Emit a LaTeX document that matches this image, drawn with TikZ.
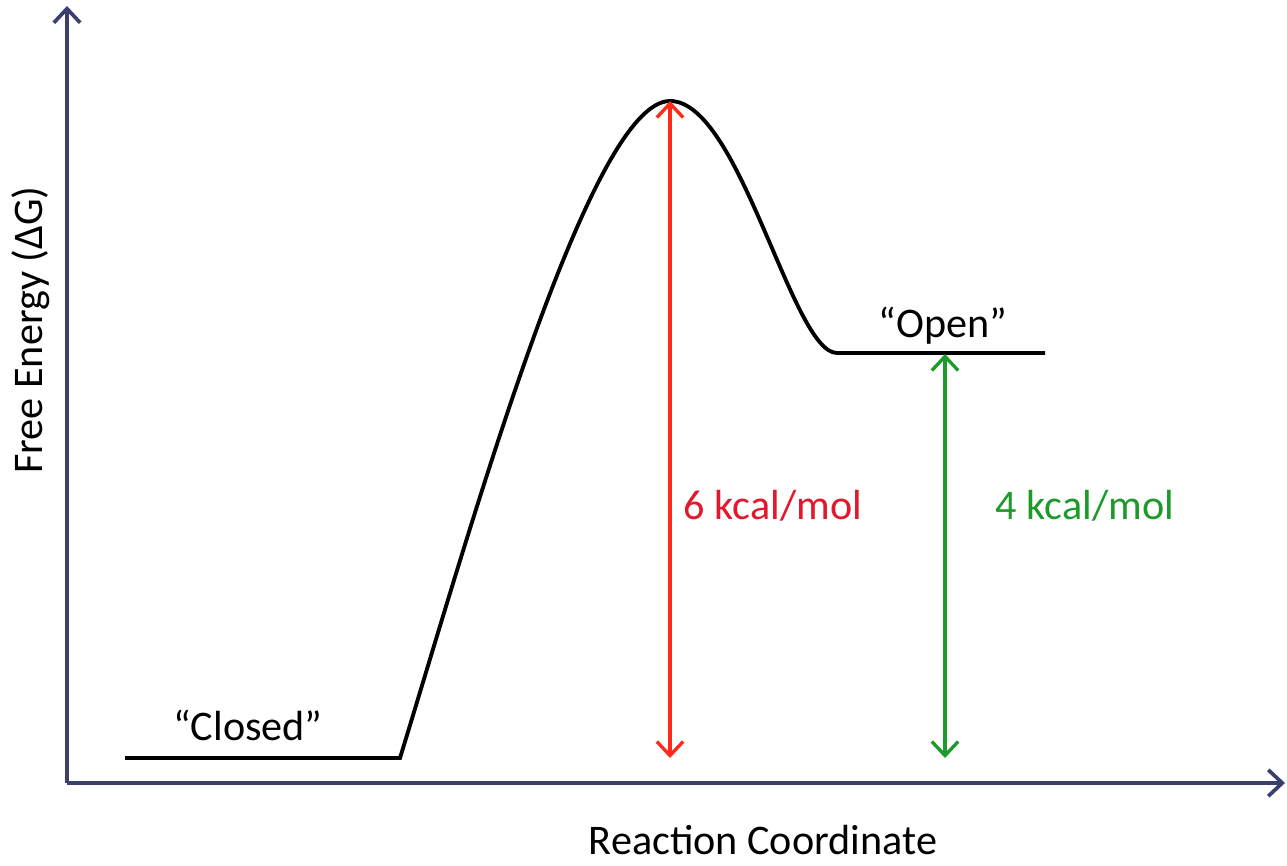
\documentclass[tikz,border=0pt]{standalone}
\usepackage{fontspec}
\setmainfont{Carlito}
\usetikzlibrary{arrows.meta}
\definecolor{axiscol}{HTML}{3B3F6E}
\definecolor{redarr}{HTML}{FF2A1A}
\definecolor{redtxt}{HTML}{E2182C}
\definecolor{greenarr}{HTML}{1E9A2A}
\begin{document}
\begin{tikzpicture}[x=0.02cm,y=-0.02cm,
  lbl/.style={font=\fontsize{24}{28}\selectfont, inner sep=0pt},
  axis/.style={axiscol, line width=2.1pt, -{Straight Barb[length=8pt,width=15pt,line width=2.1pt]}},
  energy/.style={black, line width=2.2pt},
  gap/.style={line width=1.9pt, {Straight Barb[length=8pt,width=15pt,line width=1.9pt]}-{Straight Barb[length=8pt,width=15pt,line width=1.9pt]}}]
\useasboundingbox (0,0) rectangle (1287,865);
\coordinate (origin) at (67,783);
\coordinate (ytop) at (67,6);
\coordinate (xend) at (1285,783);
\coordinate (c1) at (125,758);
\coordinate (c2) at (400,758);
\coordinate (peak) at (670,101);
\coordinate (o1) at (837,353);
\coordinate (o2) at (1045,353);
\coordinate (rbot) at (670,758);
\coordinate (gtop) at (945,354);
\coordinate (gbot) at (945,758);
\draw[axis] (origin) -- (ytop);
\draw[axis] (origin) -- (xend);
\draw[energy] (c1) -- (c2) .. controls (470,530) and (590,101) .. (peak)
  .. controls (740,101) and (792,353) .. (o1) -- (o2);
\draw[gap, redarr] (peak) -- (rbot);
\draw[gap, greenarr] (gtop) -- (gbot);
\node[lbl, anchor=base] (closed) at (248,740) {“Closed”};
\node[lbl, anchor=base] (open) at (943,337) {“Open”};
\node[lbl, anchor=base, text=redtxt] (six) at (773,519) {6 kcal/mol};
\node[lbl, anchor=base, text=greenarr] (four) at (1085,519) {4 kcal/mol};
\node[lbl, rotate=90, anchor=base] (ylab) at (42,330) {Free Energy (ΔG)};
\node[lbl, anchor=base] (xlab) at (763,854) {Reaction Coordinate};
\end{tikzpicture}
\end{document}
